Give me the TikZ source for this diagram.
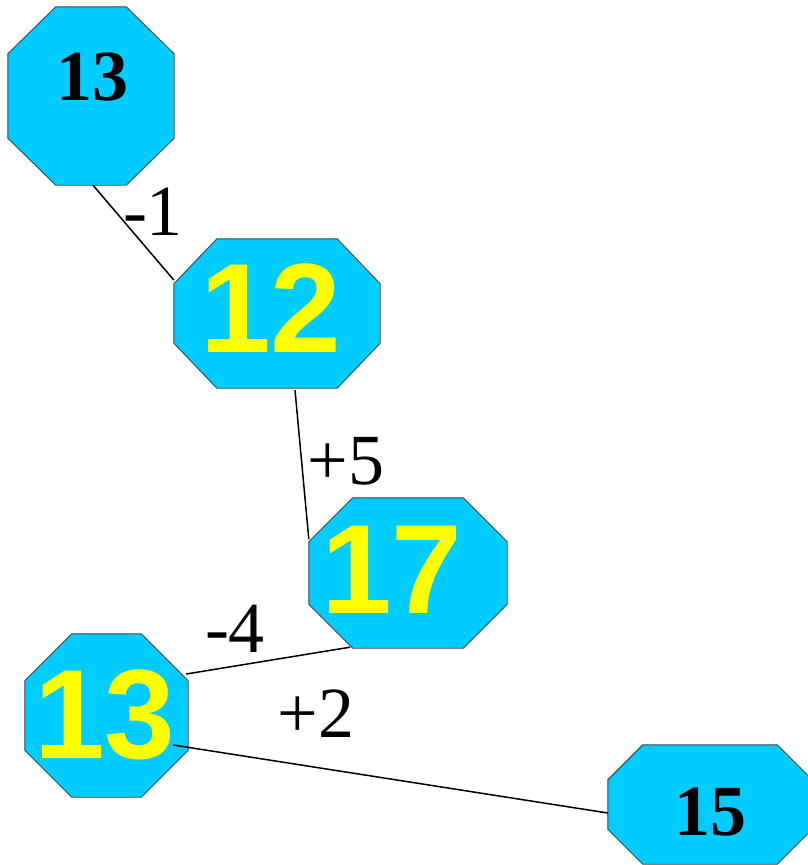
\documentclass[tikz,border=0pt]{standalone}
\usepackage{fontspec}
\setmainfont{Liberation Serif}
\newfontfamily\arialb{Liberation Sans}[BoldFont={* Bold}]
\usetikzlibrary{calc}
\definecolor{octcyan}{RGB}{0,204,255}
\definecolor{octedge}{RGB}{60,70,80}
\definecolor{numyellow}{RGB}{255,255,0}
\tikzset{
  octbox/.style={rectangle,draw=none,inner sep=0pt},
  octfill/.style={fill=octcyan,draw=octedge,line width=0.9pt},
  yellownum/.style={anchor=base,text=numyellow,font=\arialb\bfseries\fontsize{127}{127}\selectfont},
  blacknum/.style={anchor=base,text=black,font=\bfseries\fontsize{72}{72}\selectfont},
  edgelabel/.style={anchor=base,text=black,font=\fontsize{72}{72}\selectfont},
  connector/.style={draw=black,line width=1.5pt}
}
\newcommand\octodraw[3]{%
  \filldraw[octfill] ($(#1.north west)+(#2,0)$) -- ($(#1.north east)+(-#2,0)$) --
    ($(#1.north east)+(0,#3)$) -- ($(#1.south east)+(0,-#3)$) --
    ($(#1.south east)+(-#2,0)$) -- ($(#1.south west)+(#2,0)$) --
    ($(#1.south west)+(0,-#3)$) -- ($(#1.north west)+(0,#3)$) -- cycle;}
\begin{document}
\begin{tikzpicture}[x=1pt,y=-1pt]
\useasboundingbox (0,0) rectangle (808,865);
% octagon frames
\node[octbox,minimum width=166pt,minimum height=178pt] (A) at (91,96) {};
\node[octbox,minimum width=206pt,minimum height=149pt] (B) at (277,313.5) {};
\node[octbox,minimum width=198pt,minimum height=150pt] (C) at (408,573) {};
\node[octbox,minimum width=163pt,minimum height=163pt] (D) at (106.5,715.5) {};
\node[octbox,minimum width=204pt,minimum height=119pt] (E) at (710,804.5) {};
\octodraw{A}{48}{47}
\octodraw{B}{43}{45}
\octodraw{C}{44}{44}
\octodraw{D}{47}{47}
\octodraw{E}{35}{35}
% numbers
\node[blacknum] (At) at (92,100) {13};
\node[yellownum] (Bt) at (271,352) {12};
\node[yellownum] (Ct) at (392,613) {17};
\node[yellownum] (Dt) at (105,758) {13};
\node[blacknum] (Et) at (710,835) {15};
% connectors
\draw[connector] ($(A.south)+(2,0)$) -- ($(B.west)+(0,-33.5)$);
\draw[connector] ($(B.south)+(18,2)$) -- ($(C.west)+(0,-34)$);
\draw[connector] ($(D.east)+(-2,-41.5)$) -- ($(C.south)+(-58,-1)$);
\draw[connector] ($(D.east)+(-15,29.5)$) -- ($(E.west)+(0,8.5)$);
% labels
\node[edgelabel] (lab1) at (153,235) {-1};
\node[edgelabel] (lab2) at (346,484) {+5};
\node[edgelabel] (lab3) at (235,652) {-4};
\node[edgelabel] (lab4) at (316,737) {+2};
\end{tikzpicture}
\end{document}
